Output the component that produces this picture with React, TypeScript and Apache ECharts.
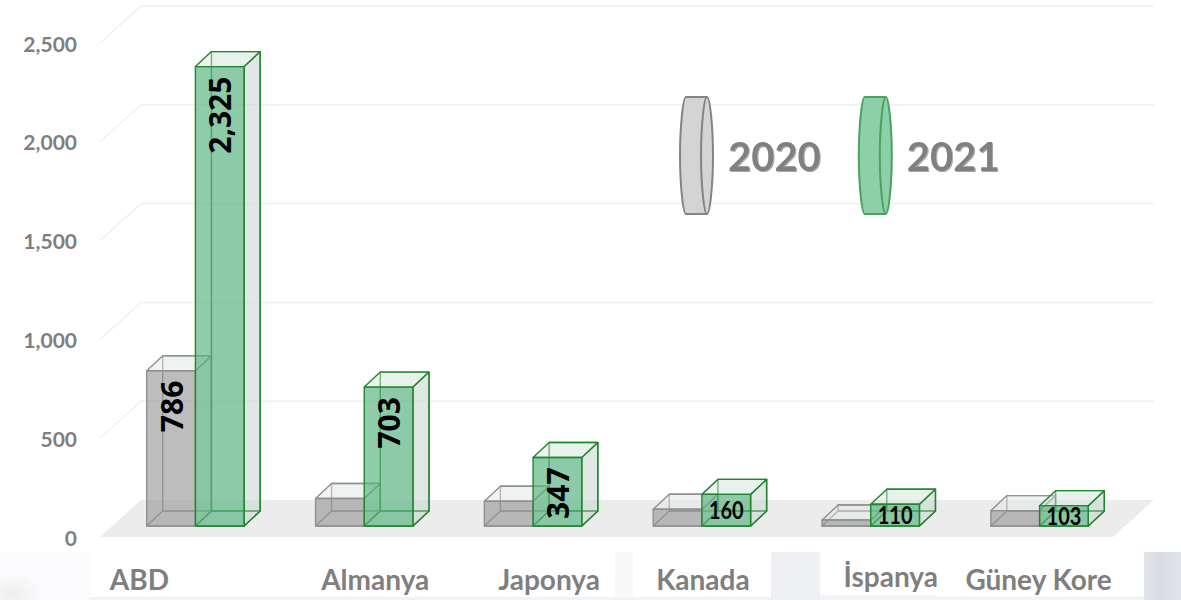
import React, { useEffect, useRef } from "react";
import * as echarts from "echarts";

const categories = ["ABD", "Almanya", "Japonya", "Kanada", "İspanya", "Güney Kore"];
const values2020 = [786, 139, 125, 85, 30, 78];
const values2021 = [2325, 703, 347, 160, 110, 103];
const labels2020 = ["786", "", "", "", "", ""];
const labels2021 = ["2,325", "703", "347", "160", "110", "103"];
const yTicks = [0, 500, 1000, 1500, 2000, 2500];
const catLabelOffsets = [[-56, 42], [11, 42], [16, 42], [1, 42], [20, 39], [-1, 42]];

const FONT = "Lato, 'Noto Sans', sans-serif";
const FONT_VALUE = "'Open Sans', 'Noto Sans', sans-serif";
const LIFT = 11, DX = 16, DY = -15, BAR_RATIO = 0.2885;
const FLOOR_L = -11, FLOOR_DX = 41, FLOOR_DY = -37;

const GREY = { line: "#909090", front: "rgba(150,150,150,0.62)", side: "rgba(200,205,205,0.30)", top: "rgba(225,230,228,0.45)", back: "rgba(235,238,236,0.25)" };
const GREEN = { line: "#23852f", front: "rgba(90,180,130,0.68)", side: "rgba(195,210,205,0.45)", top: "rgba(215,230,222,0.45)", back: "rgba(225,235,230,0.25)" };

const ICON = "path://M6 0 L27 0 C30 0 33 30 33 58.5 C33 87 30 117 27 117 L6 117 C3 117 0 87 0 58.5 C0 30 3 0 6 0 Z M27 117 C24 117 21 87 21 58.5 C21 30 24 0 27 0";

function box(api: any, side: -1 | 1, pal: any, labels: string[]) {
  const i = api.value(0);
  const v = api.value(1);
  const zero = api.coord([i, 0]);
  const topP = api.coord([i, v]);
  const w = api.size([1, 0])[0] * BAR_RATIO;
  const x0 = side < 0 ? zero[0] - w : zero[0];
  const x1 = x0 + w;
  const yb = zero[1] - LIFT;
  const yt = topP[1] - LIFT;
  const poly = (points: number[][], fill: string) => ({
    type: "polygon",
    shape: { points },
    style: { fill, stroke: pal.line, lineWidth: 1.4, lineJoin: "round" },
  });
  const children: any[] = [
    poly([[x0 + DX, yb + DY], [x1 + DX, yb + DY], [x1 + DX, yt + DY], [x0 + DX, yt + DY]], pal.back),
    poly([[x0, yb], [x1, yb], [x1 + DX, yb + DY], [x0 + DX, yb + DY]], pal.back),
    poly([[x1, yb], [x1 + DX, yb + DY], [x1 + DX, yt + DY], [x1, yt]], pal.side),
    poly([[x0, yt], [x1, yt], [x1 + DX, yt + DY], [x0 + DX, yt + DY]], pal.top),
    poly([[x0, yb], [x1, yb], [x1, yt], [x0, yt]], pal.front),
  ];
  const text = labels[i];
  if (text) {
    const cx = (x0 + x1) / 2;
    if (yb - yt > 50) {
      children.push({
        type: "text", x: cx, y: yt + 10, rotation: Math.PI / 2,
        style: { text, fill: "#000", font: `bold 30px ${FONT_VALUE}`, align: "right", verticalAlign: "middle" },
      });
    } else {
      children.push({
        type: "group", x: cx, y: (yb + yt) / 2, scaleY: 1.2,
        children: [{
          type: "text", x: 0, y: 0,
          style: { text, fill: "#000", font: `bold 20px ${FONT}`, align: "center", verticalAlign: "middle" },
        }],
      });
    }
  }
  return { type: "group", children };
}

export default function App() {
  const ref = useRef<HTMLDivElement>(null);
  useEffect(() => {
    const chart = echarts.init(ref.current!, undefined, { renderer: "svg" });
    const band = (x: number, y: number, width: number, height: number, fill: any) => ({
      type: "rect", z: -10, silent: true, shape: { x, y, width, height }, style: { fill },
    });
    chart.setOption({
      animation: false,
      backgroundColor: "#ffffff",
      graphic: [
        band(0, 552, 1181, 48, "#f1f3f5"),
        band(0, 552, 90, 48, "#fbfbfd"),
        band(0, 570, 42, 30, { type: "radial", x: 0.3, y: 0.8, r: 0.7, colorStops: [{ offset: 0, color: "#eeeeef" }, { offset: 1, color: "#fbfbfd" }] }),
        band(90, 552, 525, 45, "#ffffff"),
        band(615, 552, 18, 45, "#f7f8fa"),
        band(633, 552, 138, 45, "#ffffff"),
        band(771, 552, 49, 48, "#eff0f3"),
        band(820, 552, 116, 43, "#ffffff"),
        band(936, 552, 208, 45, "#ffffff"),
        band(1144, 552, 37, 48, { type: "linear", x: 0, y: 0, x2: 1, y2: 0, colorStops: [{ offset: 0, color: "#e0e2e9" }, { offset: 0.5, color: "#d9dce4" }, { offset: 1, color: "#e2e4ea" }] }),
      ],
      grid: { left: 111, width: 1013, top: 43, height: 494, containLabel: false },
      xAxis: {
        type: "category", data: categories,
        axisLine: { show: false }, axisTick: { show: false }, axisLabel: { show: false }, splitLine: { show: false },
      },
      yAxis: {
        type: "value", min: 0, max: 2500, interval: 500,
        axisLine: { show: false }, axisTick: { show: false }, splitLine: { show: false },
        axisLabel: {
          margin: 34, color: "#7f7f7f", fontFamily: FONT, fontWeight: "bold", fontSize: 21,
          formatter: (v: number) => v.toLocaleString("en-US"),
        },
      },
      legend: {
        left: 679, top: 96, padding: 0, itemWidth: 33, itemHeight: 117, itemGap: 37, selectedMode: false,
        textStyle: {
          color: "#808080", fontFamily: FONT, fontWeight: "bold", fontSize: 40, padding: [0, 0, 4, 10],
          textShadowColor: "rgba(0,0,0,0.35)", textShadowBlur: 1, textShadowOffsetX: 1, textShadowOffsetY: 1,
        },
        data: [
          { name: "2020", icon: ICON, itemStyle: { color: "#d4d4d4", borderColor: "#848484", borderWidth: 2 } },
          { name: "2021", icon: ICON, itemStyle: { color: "#8dcfa9", borderColor: "#4aa35c", borderWidth: 2 } },
        ],
      },
      series: [
        {
          type: "custom", name: "floor", z: 1, silent: true, clip: false,
          data: [[0, 0]],
          renderItem: (params: any, api: any) => {
            const c = params.coordSys;
            const y = api.coord([0, 0])[1];
            const l = c.x + FLOOR_L;
            const r = l + c.width;
            return {
              type: "polygon",
              shape: { points: [[l, y], [r, y], [r + FLOOR_DX, y + FLOOR_DY], [l + FLOOR_DX, y + FLOOR_DY]] },
              style: { fill: "#ececec" },
            };
          },
        },
        {
          type: "custom", name: "wall", z: 1, silent: true, clip: false,
          data: yTicks.slice(1).map((t) => [0, t]),
          renderItem: (params: any, api: any) => {
            const c = params.coordSys;
            const y = api.coord([0, api.value(1)])[1];
            const l = c.x + FLOOR_L;
            const r = l + c.width;
            return {
              type: "polyline",
              shape: { points: [[l, y], [l + FLOOR_DX, y + FLOOR_DY], [r + FLOOR_DX, y + FLOOR_DY]] },
              style: { fill: "none", stroke: "#f0f0f0", lineWidth: 1.5 },
            };
          },
        },
        {
          type: "custom", name: "2020", z: 2, clip: false,
          itemStyle: { color: "#d4d4d4" },
          data: values2020.map((v, i) => [i, v]),
          encode: { x: 0, y: 1 },
          renderItem: (_p: any, api: any) => box(api, -1, GREY, labels2020),
        },
        {
          type: "custom", name: "2021", z: 3, clip: false,
          itemStyle: { color: "#8dcfa9" },
          data: values2021.map((v, i) => [i, v]),
          encode: { x: 0, y: 1 },
          renderItem: (_p: any, api: any) => box(api, 1, GREEN, labels2021),
        },
        {
          type: "custom", name: "categories", z: 4, silent: true, clip: false,
          data: categories.map((_, i) => [i, 0]),
          renderItem: (_p: any, api: any) => {
            const i = api.value(0);
            const p = api.coord([i, 0]);
            return {
              type: "text", x: p[0] + catLabelOffsets[i][0], y: p[1] + catLabelOffsets[i][1],
              style: { text: categories[i], fill: "#7f7f7f", font: `bold 28px ${FONT}`, align: "center", verticalAlign: "middle" },
            };
          },
        },
      ],
    });
    return () => chart.dispose();
  }, []);
  return <div ref={ref} style={{ position: "fixed", left: 0, top: 0, width: 1181, height: 600 }} />;
}
